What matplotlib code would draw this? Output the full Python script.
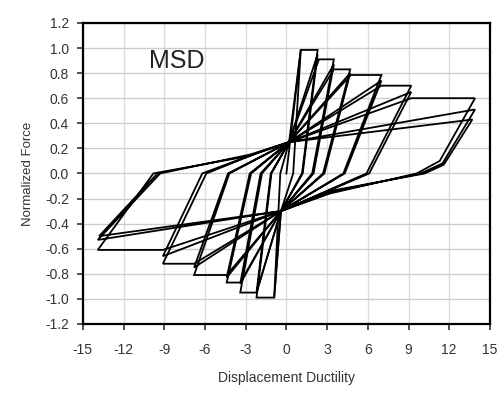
import matplotlib.pyplot as plt

plt.rcParams['font.family'] = ['Liberation Sans', 'DejaVu Sans']
plt.rcParams['axes.unicode_minus'] = False

# hysteresis path, one list per ductility level (displacement ductility, normalized force)
lvl1_x = [0.0, 1.06, 0.5, -0.4, -0.9, -0.45, 0.2]
lvl1_y = [0.0, 0.985, 0.0, -0.3, -0.99, 0.0, 0.25]

lvl2_x = [0.2, 1.06, 2.3, 1.15, -0.4, -0.9, -2.2, -1.1, 0.2, 2.3, 1.2, -0.4, -2.2, -1.15, 0.2]
lvl2_y = [0.25, 0.985, 0.985, 0.0, -0.3, -0.99, -0.99, 0.0, 0.25, 0.95, 0.0, -0.3, -0.95, 0.0, 0.25]

lvl3_x = [0.2, 2.4, 3.5, 1.9, -0.4, -2.2, -3.4, -1.8, 0.2, 3.5, 2.0, -0.4, -3.4, -1.9, 0.2]
lvl3_y = [0.25, 0.91, 0.91, 0.0, -0.3, -0.95, -0.95, 0.0, 0.25, 0.87, 0.0, -0.3, -0.88, 0.0, 0.25]

lvl4_x = [0.2, 3.5, 4.7, 2.7, -0.4, -3.4, -4.4, -2.6, 0.2, 4.7, 2.8, -0.4, -4.4, -2.7, 0.2]
lvl4_y = [0.25, 0.83, 0.83, 0.0, -0.3, -0.87, -0.87, 0.0, 0.25, 0.80, 0.0, -0.3, -0.83, 0.0, 0.25]

lvl5_x = [0.2, 4.75, 7.0, 4.2, -0.4, -4.4, -6.8, -4.2, 0.2, 7.0, 4.3, -0.4, -6.8, -4.3, 0.2]
lvl5_y = [0.25, 0.785, 0.785, 0.0, -0.3, -0.81, -0.81, 0.0, 0.25, 0.74, 0.0, -0.3, -0.75, 0.0, 0.25]

lvl6_x = [0.2, 7.0, 9.2, 5.9, -0.4, -6.8, -9.1, -5.9, -2.0, 0.2, 9.2, 6.1, -0.4, -9.1, -6.2, -2.0, 0.2]
lvl6_y = [0.25, 0.70, 0.70, 0.0, -0.3, -0.72, -0.72, 0.0, 0.17, 0.25, 0.65, 0.0, -0.3, -0.66, 0.0, 0.17, 0.25]

lvl7_x = [0.2, 9.2, 13.9, 11.3, 9.6, 3.2, -0.4, -9.1, -13.9, -9.8, -2.7, 0.2, 13.9, 11.5, 9.9, 3.2,
          -0.4, -13.9, -9.3, -2.7, 0.2, 13.7, 11.6, 10.2, 3.2, -0.4, -13.8, -9.5]
lvl7_y = [0.25, 0.60, 0.60, 0.10, 0.0, -0.16, -0.3, -0.61, -0.61, 0.0, 0.14, 0.25, 0.51, 0.08, 0.0, -0.15,
          -0.3, -0.53, 0.0, 0.15, 0.25, 0.43, 0.07, 0.0, -0.14, -0.3, -0.50, 0.0]

levels = [(lvl1_x, lvl1_y), (lvl2_x, lvl2_y), (lvl3_x, lvl3_y), (lvl4_x, lvl4_y),
          (lvl5_x, lvl5_y), (lvl6_x, lvl6_y), (lvl7_x, lvl7_y)]

yticks = [-1.2, -1.0, -0.8, -0.6, -0.4, -0.2, 0.0, 0.2, 0.4, 0.6, 0.8, 1.0, 1.2]
xticks = [-15, -12, -9, -6, -3, 0, 3, 6, 9, 12, 15]

fig = plt.figure(figsize=(5.02, 3.96), dpi=100)
ax = fig.add_axes([0.165, 0.182, 0.811, 0.760])

for gx in xticks:
    ax.axvline(gx, color='#dddddd', lw=1, zorder=0)
for gy in yticks:
    ax.axhline(gy, color='#cccccc', lw=1, zorder=0)

for lx, ly in levels:
    ax.plot(lx, ly, color='black', lw=1.3, solid_joinstyle='miter')

ax.set_xlim(-15, 15)
ax.set_ylim(-1.2, 1.2)
ax.set_xticks(xticks)
ax.set_yticks(yticks)
ax.set_yticklabels(['%.1f' % v for v in yticks])
ax.tick_params(direction='out', length=4, width=1.2, labelsize=10, colors='#333333')
ax.tick_params(axis='x', pad=10)
ax.tick_params(axis='y', pad=6)
for s in ax.spines.values():
    s.set_linewidth(1.6)

ax.text(-8.1, 0.9, 'MSD', fontsize=18, ha='center', va='center', color='#222222')
ax.set_xlabel('Displacement Ductility', fontsize=10, color='#333333', labelpad=10)
ax.set_ylabel('Normalized Force', fontsize=9.5, color='#333333', labelpad=8)

fig.savefig('out.png', dpi=100)
